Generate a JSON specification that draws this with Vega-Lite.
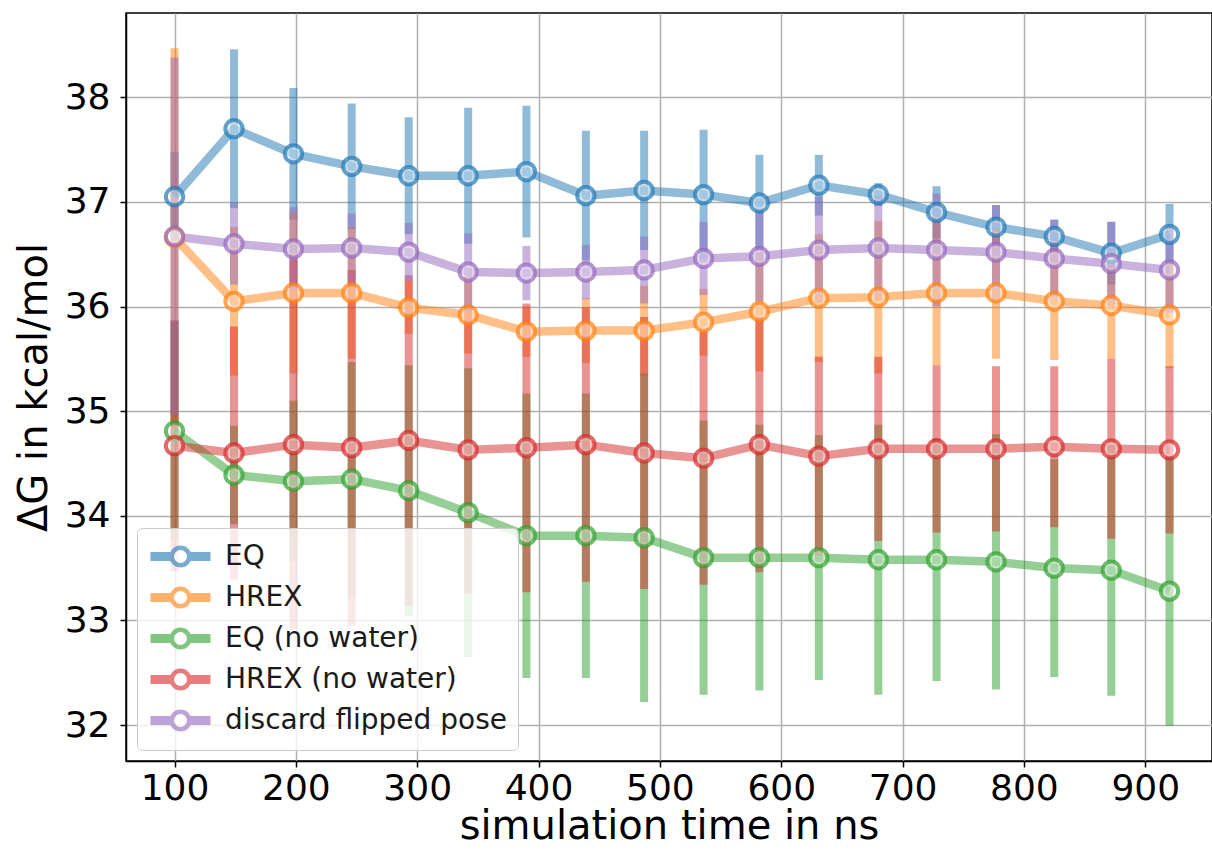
{
  "$schema": "https://vega.github.io/schema/vega-lite/v6.json",
  "width": 1086,
  "height": 748,
  "autosize": "none",
  "padding": {"left": 126, "top": 13, "right": 0, "bottom": 89},
  "background": "white",
  "data": {
    "values": [
      {"s": "EQ", "t": 100, "y": 37.05, "lo": 36.62, "hi": 37.48},
      {"s": "EQ", "t": 149, "y": 37.70, "lo": 36.94, "hi": 38.46},
      {"s": "EQ", "t": 198, "y": 37.46, "lo": 36.83, "hi": 38.09},
      {"s": "EQ", "t": 246, "y": 37.34, "lo": 36.74, "hi": 37.94},
      {"s": "EQ", "t": 293, "y": 37.25, "lo": 36.69, "hi": 37.81},
      {"s": "EQ", "t": 342, "y": 37.25, "lo": 36.60, "hi": 37.90},
      {"s": "EQ", "t": 390, "y": 37.29, "lo": 36.66, "hi": 37.92},
      {"s": "EQ", "t": 439, "y": 37.06, "lo": 36.44, "hi": 37.68},
      {"s": "EQ", "t": 487, "y": 37.11, "lo": 36.54, "hi": 37.68},
      {"s": "EQ", "t": 536, "y": 37.07, "lo": 36.45, "hi": 37.69},
      {"s": "EQ", "t": 582, "y": 36.99, "lo": 36.53, "hi": 37.45},
      {"s": "EQ", "t": 631, "y": 37.16, "lo": 36.87, "hi": 37.45},
      {"s": "EQ", "t": 680, "y": 37.07, "lo": 36.96, "hi": 37.18},
      {"s": "EQ", "t": 728, "y": 36.90, "lo": 36.65, "hi": 37.15},
      {"s": "EQ", "t": 777, "y": 36.76, "lo": 36.55, "hi": 36.97},
      {"s": "EQ", "t": 825, "y": 36.67, "lo": 36.51, "hi": 36.83},
      {"s": "EQ", "t": 872, "y": 36.51, "lo": 36.21, "hi": 36.81},
      {"s": "EQ", "t": 920, "y": 36.69, "lo": 36.40, "hi": 36.98},

      {"s": "HREX", "t": 100, "y": 36.66, "lo": 34.85, "hi": 38.47},
      {"s": "HREX", "t": 149, "y": 36.05, "lo": 35.34, "hi": 36.76},
      {"s": "HREX", "t": 198, "y": 36.13, "lo": 35.36, "hi": 36.90},
      {"s": "HREX", "t": 246, "y": 36.13, "lo": 35.50, "hi": 36.76},
      {"s": "HREX", "t": 293, "y": 35.99, "lo": 35.74, "hi": 36.24},
      {"s": "HREX", "t": 342, "y": 35.92, "lo": 35.55, "hi": 36.29},
      {"s": "HREX", "t": 390, "y": 35.76, "lo": 35.52, "hi": 36.00},
      {"s": "HREX", "t": 439, "y": 35.77, "lo": 35.46, "hi": 36.08},
      {"s": "HREX", "t": 487, "y": 35.77, "lo": 35.34, "hi": 36.20},
      {"s": "HREX", "t": 536, "y": 35.85, "lo": 35.53, "hi": 36.17},
      {"s": "HREX", "t": 582, "y": 35.95, "lo": 35.38, "hi": 36.52},
      {"s": "HREX", "t": 631, "y": 36.08, "lo": 35.47, "hi": 36.69},
      {"s": "HREX", "t": 680, "y": 36.09, "lo": 35.36, "hi": 36.82},
      {"s": "HREX", "t": 728, "y": 36.13, "lo": 35.44, "hi": 36.82},
      {"s": "HREX", "t": 777, "y": 36.13, "lo": 35.50, "hi": 36.76},
      {"s": "HREX", "t": 825, "y": 36.05, "lo": 35.49, "hi": 36.61},
      {"s": "HREX", "t": 872, "y": 36.01, "lo": 35.50, "hi": 36.52},
      {"s": "HREX", "t": 920, "y": 35.92, "lo": 35.41, "hi": 36.43},

      {"s": "EQ (no water)", "t": 100, "y": 34.81, "lo": 33.76, "hi": 35.86},
      {"s": "EQ (no water)", "t": 149, "y": 34.39, "lo": 33.92, "hi": 34.86},
      {"s": "EQ (no water)", "t": 198, "y": 34.33, "lo": 33.56, "hi": 35.10},
      {"s": "EQ (no water)", "t": 246, "y": 34.35, "lo": 33.23, "hi": 35.47},
      {"s": "EQ (no water)", "t": 293, "y": 34.24, "lo": 33.04, "hi": 35.44},
      {"s": "EQ (no water)", "t": 342, "y": 34.03, "lo": 32.65, "hi": 35.41},
      {"s": "EQ (no water)", "t": 390, "y": 33.81, "lo": 32.45, "hi": 35.17},
      {"s": "EQ (no water)", "t": 439, "y": 33.81, "lo": 32.45, "hi": 35.17},
      {"s": "EQ (no water)", "t": 487, "y": 33.79, "lo": 32.22, "hi": 35.36},
      {"s": "EQ (no water)", "t": 536, "y": 33.60, "lo": 32.29, "hi": 34.91},
      {"s": "EQ (no water)", "t": 582, "y": 33.60, "lo": 32.33, "hi": 34.87},
      {"s": "EQ (no water)", "t": 631, "y": 33.60, "lo": 32.43, "hi": 34.77},
      {"s": "EQ (no water)", "t": 680, "y": 33.58, "lo": 32.29, "hi": 34.87},
      {"s": "EQ (no water)", "t": 728, "y": 33.58, "lo": 32.42, "hi": 34.74},
      {"s": "EQ (no water)", "t": 777, "y": 33.56, "lo": 32.34, "hi": 34.78},
      {"s": "EQ (no water)", "t": 825, "y": 33.50, "lo": 32.46, "hi": 34.54},
      {"s": "EQ (no water)", "t": 872, "y": 33.48, "lo": 32.28, "hi": 34.68},
      {"s": "EQ (no water)", "t": 920, "y": 33.28, "lo": 31.99, "hi": 34.57},

      {"s": "HREX (no water)", "t": 100, "y": 34.67, "lo": 33.47, "hi": 35.87},
      {"s": "HREX (no water)", "t": 149, "y": 34.60, "lo": 33.39, "hi": 35.81},
      {"s": "HREX (no water)", "t": 198, "y": 34.68, "lo": 32.91, "hi": 36.45},
      {"s": "HREX (no water)", "t": 246, "y": 34.65, "lo": 32.95, "hi": 36.35},
      {"s": "HREX (no water)", "t": 293, "y": 34.72, "lo": 33.14, "hi": 36.30},
      {"s": "HREX (no water)", "t": 342, "y": 34.63, "lo": 33.26, "hi": 36.00},
      {"s": "HREX (no water)", "t": 390, "y": 34.65, "lo": 33.27, "hi": 36.03},
      {"s": "HREX (no water)", "t": 439, "y": 34.68, "lo": 33.37, "hi": 35.99},
      {"s": "HREX (no water)", "t": 487, "y": 34.60, "lo": 33.30, "hi": 35.90},
      {"s": "HREX (no water)", "t": 536, "y": 34.55, "lo": 33.34, "hi": 35.76},
      {"s": "HREX (no water)", "t": 582, "y": 34.68, "lo": 33.46, "hi": 35.90},
      {"s": "HREX (no water)", "t": 631, "y": 34.57, "lo": 33.62, "hi": 35.52},
      {"s": "HREX (no water)", "t": 680, "y": 34.64, "lo": 33.76, "hi": 35.52},
      {"s": "HREX (no water)", "t": 728, "y": 34.64, "lo": 33.84, "hi": 35.44},
      {"s": "HREX (no water)", "t": 777, "y": 34.64, "lo": 33.85, "hi": 35.43},
      {"s": "HREX (no water)", "t": 825, "y": 34.66, "lo": 33.89, "hi": 35.43},
      {"s": "HREX (no water)", "t": 872, "y": 34.64, "lo": 33.78, "hi": 35.50},
      {"s": "HREX (no water)", "t": 920, "y": 34.63, "lo": 33.83, "hi": 35.43},

      {"s": "discard flipped pose", "t": 100, "y": 36.67, "lo": 34.96, "hi": 38.38},
      {"s": "discard flipped pose", "t": 149, "y": 36.60, "lo": 36.21, "hi": 36.99},
      {"s": "discard flipped pose", "t": 198, "y": 36.55, "lo": 36.15, "hi": 36.95},
      {"s": "discard flipped pose", "t": 246, "y": 36.56, "lo": 36.23, "hi": 36.89},
      {"s": "discard flipped pose", "t": 293, "y": 36.52, "lo": 36.24, "hi": 36.80},
      {"s": "discard flipped pose", "t": 342, "y": 36.33, "lo": 35.96, "hi": 36.70},
      {"s": "discard flipped pose", "t": 390, "y": 36.32, "lo": 36.06, "hi": 36.58},
      {"s": "discard flipped pose", "t": 439, "y": 36.33, "lo": 36.07, "hi": 36.59},
      {"s": "discard flipped pose", "t": 487, "y": 36.35, "lo": 36.03, "hi": 36.67},
      {"s": "discard flipped pose", "t": 536, "y": 36.46, "lo": 36.11, "hi": 36.81},
      {"s": "discard flipped pose", "t": 582, "y": 36.48, "lo": 36.05, "hi": 36.91},
      {"s": "discard flipped pose", "t": 631, "y": 36.54, "lo": 36.03, "hi": 37.05},
      {"s": "discard flipped pose", "t": 680, "y": 36.56, "lo": 36.06, "hi": 37.06},
      {"s": "discard flipped pose", "t": 728, "y": 36.54, "lo": 36.00, "hi": 37.08},
      {"s": "discard flipped pose", "t": 777, "y": 36.52, "lo": 36.07, "hi": 36.97},
      {"s": "discard flipped pose", "t": 825, "y": 36.46, "lo": 36.09, "hi": 36.83},
      {"s": "discard flipped pose", "t": 872, "y": 36.41, "lo": 36.01, "hi": 36.81},
      {"s": "discard flipped pose", "t": 920, "y": 36.35, "lo": 35.94, "hi": 36.76}
    ]
  },
  "encoding": {
    "x": {
      "field": "t", "type": "quantitative",
      "scale": {"domain": [60, 955], "nice": false, "zero": false},
      "axis": {"values": [100, 200, 300, 400, 500, 600, 700, 800, 900], "title": "simulation time in ns"}
    },
    "color": {
      "field": "s", "type": "nominal",
      "scale": {
        "domain": ["EQ", "HREX", "EQ (no water)", "HREX (no water)", "discard flipped pose"],
        "range": ["#1f77b4", "#ff7f0e", "#2ca02c", "#d62728", "#9467bd"]
      },
      "legend": {
        "title": null,
        "orient": "none",
        "legendX": 11,
        "legendY": 515,
        "symbolType": "M-0.85,-0.15H0.417V0.15H-0.85Z M1.583,-0.15H2.85V0.15H1.583Z M1.583,0A0.583,0.583 0 1,1 0.417,0A0.583,0.583 0 1,1 1.583,0Z",
        "symbolSize": 900,
        "symbolStrokeWidth": 4.5,
        "symbolOpacity": 0.6,
        "labelFont": "DejaVu Sans",
        "labelFontSize": 28,
        "labelColor": "#1a1a1a",
        "labelOffset": 42,
        "labelLimit": 500,
        "rowPadding": 4,
        "padding": 11,
        "fillColor": "rgba(255,255,255,0.8)",
        "strokeColor": "#cccccc",
        "cornerRadius": 5
      }
    }
  },
  "layer": [
    {
      "mark": {"type": "rule", "strokeWidth": 8, "opacity": 0.5},
      "encoding": {
        "y": {"field": "lo", "type": "quantitative", "scale": {"domain": [31.656, 38.806], "nice": false, "zero": false},
              "axis": {"values": [32, 33, 34, 35, 36, 37, 38], "format": "d", "title": "ΔG in kcal/mol"}},
        "y2": {"field": "hi"}
      }
    },
    {
      "mark": {"type": "line", "strokeWidth": 8.5, "opacity": 0.5, "strokeJoin": "round"},
      "encoding": {
        "y": {"field": "y", "type": "quantitative"}
      }
    },
    {
      "mark": {"type": "point", "shape": "circle", "filled": false, "fill": "white", "fillOpacity": 0.45, "size": 300, "strokeWidth": 4, "strokeOpacity": 0.7},
      "encoding": {
        "y": {"field": "y", "type": "quantitative"}
      }
    }
  ],
  "config": {
    "view": {"stroke": "#000000", "strokeWidth": 1.5},
    "axis": {
      "labelFont": "DejaVu Sans",
      "labelFontSize": 36,
      "labelColor": "#000000",
      "titleFont": "DejaVu Sans",
      "titleFontSize": 40,
      "titleFontWeight": "normal",
      "titleColor": "#000000",
      "domainColor": "#000000",
      "domainWidth": 1.5,
      "tickColor": "#000000",
      "tickSize": 6,
      "tickWidth": 1.5,
      "grid": true,
      "gridColor": "#b0b0b0",
      "gridWidth": 1.5
    },
    "axisX": {"labelPadding": 4, "titlePadding": 0, "labelFlush": false},
    "axisY": {"labelPadding": 10, "titlePadding": 10, "labelFlush": false}
  }
}
